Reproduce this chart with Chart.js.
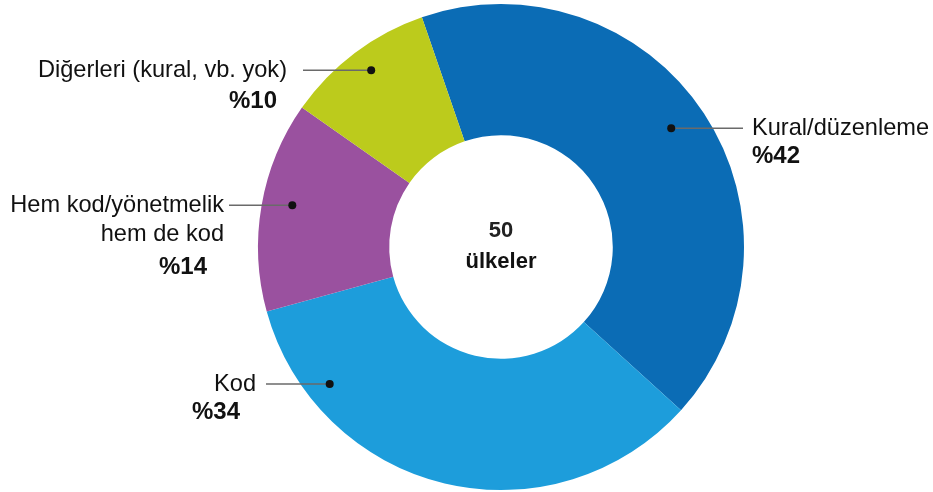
<!DOCTYPE html>
<html lang="tr">

<head>
    <meta charset="UTF-8">
    <title>Ülkeler</title>
    <script src="https://cdn.jsdelivr.net/npm/chart.js"></script>
    <style>
        html, body { margin: 0; padding: 0; background: #fff; }
        .grafik { width: 933px; height: 492px; }
    </style>
</head>

<body>
    <div class="grafik">
        <canvas id="canva_halka"></canvas>
    </div>

<script>

    // veriler
    var kategoriler = ['Kural/düzenleme', 'Kod', 'Hem kod/yönetmelik hem de kod', 'Diğerleri (kural, vb. yok)'];
    var yuzdeler = [42, 34, 14, 10];
    var etiketSatirlari = [['Kural/düzenleme'], ['Kod'], ['Hem kod/yönetmelik', 'hem de kod'], ['Diğerleri (kural, vb. yok)']];
    var merkezYazi = ['50', 'ülkeler'];

    var renkler = ['#0b6cb5', '#1d9ddb', '#9a519f', '#bccb1c'];

    // her dilim için nokta yeri (dilim içinde açı ve yarıçap oranı) ve yazı yerleşimi
    var yerlesim = [
        { aci: 0.49, yaricap: 0.73, yon: 'sag', yaziX: 752, cizgiSon: 743, yuzdeX: 752, yuzdeY: 156 },
        { aci: 0.81, yaricap: 0.82, yon: 'sol', yaziX: 256, cizgiSon: 266, yuzdeX: 240, yuzdeY: 412 },
        { aci: 0.53, yaricap: 0.77, yon: 'sol', yaziX: 224, cizgiSon: 229, yuzdeX: 207, yuzdeY: 267 },
        { aci: 0.52, yaricap: 0.82, yon: 'sol', yaziX: 287, cizgiSon: 303, yuzdeX: 277, yuzdeY: 101 }
    ];

    const etiketEklentisi = {
        id: 'etiketler',
        afterDatasetsDraw(chart) {
            const ctx = chart.ctx;
            const arcs = chart.getDatasetMeta(0).data;
            ctx.save();

            arcs.forEach((arc, i) => {
                const y0 = yerlesim[i];
                const p = arc.getProps(['x', 'y', 'startAngle', 'endAngle', 'innerRadius', 'outerRadius'], true);
                const a = p.startAngle + y0.aci * (p.endAngle - p.startAngle);
                const r = p.innerRadius + y0.yaricap * (p.outerRadius - p.innerRadius);
                const nx = p.x + r * Math.cos(a);
                const ny = p.y + r * Math.sin(a);

                // çizgi
                ctx.strokeStyle = '#6a6a6a';
                ctx.lineWidth = 1.5;
                ctx.beginPath();
                ctx.moveTo(nx, ny);
                ctx.lineTo(y0.cizgiSon, ny);
                ctx.stroke();

                // nokta
                ctx.fillStyle = '#111';
                ctx.beginPath();
                ctx.arc(nx, ny, 4, 0, Math.PI * 2);
                ctx.fill();

                // kategori yazısı
                ctx.fillStyle = '#111';
                ctx.font = '23.6px "Liberation Sans", Arial, sans-serif';
                ctx.textBaseline = 'middle';
                ctx.textAlign = y0.yon == 'sag' ? 'left' : 'right';
                etiketSatirlari[i].forEach((satir, k) => {
                    ctx.fillText(satir, y0.yaziX, ny + k * 29);
                });

                // yüzde
                ctx.font = 'bold 24px "Liberation Sans", Arial, sans-serif';
                ctx.fillText('%' + yuzdeler[i], y0.yuzdeX, y0.yuzdeY);
            });

            // ortadaki yazı
            const m = arcs[0];
            ctx.textAlign = 'center';
            ctx.font = 'bold 22px "Liberation Sans", Arial, sans-serif';
            ctx.fillStyle = '#222';
            ctx.fillText(merkezYazi[0], m.x, 231);
            ctx.fillStyle = '#111';
            ctx.fillText(merkezYazi[1], m.x, 262);

            ctx.restore();
        }
    };

    new Chart(document.getElementById('canva_halka'), {
        type: 'doughnut',
        data: {
            labels: kategoriler,
            datasets: [{
                data: yuzdeler,
                backgroundColor: renkler,
                borderWidth: 0
            }]
        },
        options: {
            responsive: true,
            maintainAspectRatio: false,
            animation: false,
            rotation: -19,
            cutout: '46%',
            layout: {
                padding: { top: 4, bottom: 2, left: 69, right: 0 }
            },
            plugins: {
                legend: { display: false },
                tooltip: { enabled: false }
            }
        },
        plugins: [etiketEklentisi]
    });

</script>
</body>

</html>
